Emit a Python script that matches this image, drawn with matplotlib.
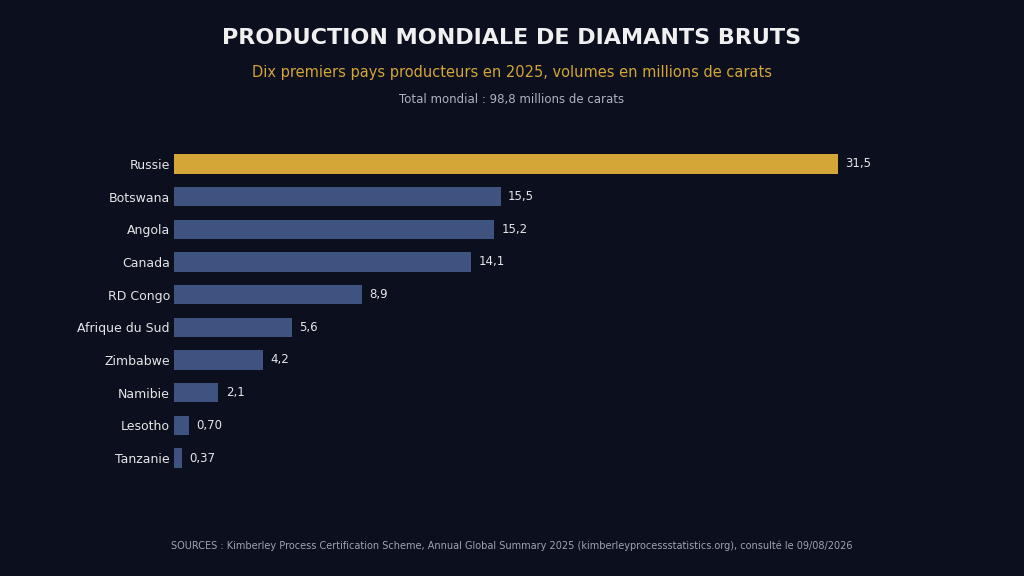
import matplotlib
matplotlib.use('Agg')
import matplotlib.pyplot as plt

# donnees (millions de carats)
pays = ['Russie', 'Botswana', 'Angola', 'Canada', 'RD Congo', 'Afrique du Sud',
        'Zimbabwe', 'Namibie', 'Lesotho', 'Tanzanie']
volumes = [31.5, 15.5, 15.2, 14.1, 8.9, 5.6, 4.2, 2.1, 0.70, 0.37]
etiquettes = ['31,5', '15,5', '15,2', '14,1', '8,9', '5,6', '4,2', '2,1', '0,70', '0,37']

bg = '#0b0f1e'
fig = plt.figure(figsize=(10.24, 5.76), dpi=100, facecolor=bg)

W, H = 1024, 576
left, right, top, bottom = 174, 900, 144.4, 477.6
ax = fig.add_axes([left / W, 1 - bottom / H, (right - left) / W, (bottom - top) / H])
ax.set_facecolor(bg)

couleurs = ['#d4a537'] + ['#3f5380'] * (len(pays) - 1)
y = range(len(pays))
ax.barh(y, volumes, height=0.6, color=couleurs)
for yi, v, lab in zip(y, volumes, etiquettes):
    ax.text(v + 0.35, yi, lab, va='center', ha='left', color='#e6e6e6', fontsize=8.5)

ax.set_yticks(list(y))
ax.set_yticklabels(pays, color='#e6e6e6', fontsize=9)
ax.tick_params(axis='y', length=0, pad=3)
ax.set_xticks([])
ax.set_xlim(0, (right - left) / (664 / 31.5))
ax.set_ylim(9.6, -0.6)
for s in ax.spines.values():
    s.set_visible(False)

fig.text(0.5, 1 - 38 / H, 'PRODUCTION MONDIALE DE DIAMANTS BRUTS', ha='center', va='center',
         color='#f0f0f0', fontsize=16, fontweight='bold')
fig.text(0.5, 1 - 73 / H, 'Dix premiers pays producteurs en 2025, volumes en millions de carats',
         ha='center', va='center', color='#d4a537', fontsize=10.5)
fig.text(0.5, 1 - 99 / H, 'Total mondial : 98,8 millions de carats', ha='center', va='center',
         color='#b0b4bf', fontsize=8.5)
fig.text(0.5, 1 - 546 / H,
         'SOURCES : Kimberley Process Certification Scheme, Annual Global Summary 2025 '
         '(kimberleyprocessstatistics.org), consulté le 09/08/2026',
         ha='center', va='center', color='#a0a4b0', fontsize=7)

fig.savefig('out.png', dpi=100, facecolor=bg)
